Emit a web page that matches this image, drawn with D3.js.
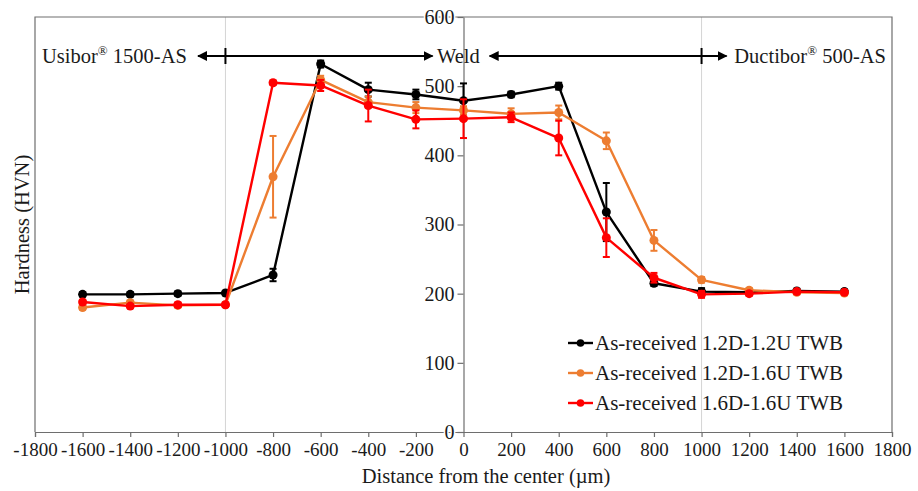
<!DOCTYPE html>
<html>
<head>
<meta charset="utf-8">
<script src="https://cdn.jsdelivr.net/npm/d3@7"></script>
<style>
  html, body { margin: 0; padding: 0; background: #fff; }
  svg text { font-family: "Liberation Serif", "Times New Roman", serif; fill: #1a1a1a; }
</style>
</head>
<body>
<svg id="chart" width="918" height="491"></svg>
<script>
// Measurement positions across the weld (µm from the weld centre)
const distances = [-1600, -1400, -1200, -1000, -800, -600, -400, -200, 0, 200, 400, 600, 800, 1000, 1200, 1400, 1600];

// Mean Vickers hardness and standard deviation for each blank configuration
const hv12D12U = [199, 199, 200, 201, 227, 532, 495, 488, 479, 488, 500, 318, 215, 203, 202, 204, 203];
const sd12D12U = [3, 3, 3, 3, 9, 5, 10, 7, 25, 4, 5, 42, 4, 5, 3, 3, 3];

const hv12D16U = [180, 187, 183, 184, 369, 509, 477, 469, 465, 460, 462, 421, 277, 220, 205, 202, 201];
const sd12D16U = [3, 3, 3, 3, 59, 6, 8, 8, 6, 8, 10, 12, 15, 4, 3, 3, 3];

const hv16D16U = [188, 182, 184, 184, 505, 501, 472, 452, 453, 455, 425, 281, 223, 199, 200, 203, 202];
const sd16D16U = [3, 3, 3, 3, 3, 8, 23, 13, 28, 7, 25, 28, 7, 5, 3, 3, 3];

const seriesNames = ["As-received 1.2D-1.2U TWB", "As-received 1.2D-1.6U TWB", "As-received 1.6D-1.6U TWB"];
const seriesColors = ["#000000", "#ED7D31", "#FF0000"];

// Axis ticks
const xTicks = d3.range(-1800, 1801, 200);
const yTicks = [0, 100, 200, 300, 400, 500, 600];

// Material zones along the top of the plot
const zoneBoundaries = [-1000, 1000];
const zoneArrows = [[-1115, -130], [110, 1105]];

const series = [
  { name: seriesNames[0], color: seriesColors[0], values: hv12D12U, sd: sd12D12U },
  { name: seriesNames[1], color: seriesColors[1], values: hv12D16U, sd: sd12D16U },
  { name: seriesNames[2], color: seriesColors[2], values: hv16D16U, sd: sd16D16U }
];

const svg = d3.select("#chart");
const plot = { left: 35, right: 892, top: 17, bottom: 432 };

const x = d3.scaleLinear().domain([-1800, 1800]).range([plot.left, plot.right]);
const y = d3.scaleLinear().domain([0, 600]).range([plot.bottom, plot.top]);

const axisColor = "#6e6e6e";
const plain = d => String(d);   // ASCII hyphen, no thousands separator

// Light vertical guides at the zone boundaries
svg.append("g").selectAll("line").data(zoneBoundaries).join("line")
  .attr("x1", d => x(d)).attr("x2", d => x(d))
  .attr("y1", plot.top).attr("y2", plot.bottom)
  .attr("stroke", "#d4d4d4").attr("stroke-width", 1);

// Plot frame (left, top, right)
svg.append("path")
  .attr("d", `M${plot.left},${plot.bottom}V${plot.top}H${plot.right}V${plot.bottom}`)
  .attr("fill", "none").attr("stroke", axisColor).attr("stroke-width", 1.2);

// X axis along the bottom
const xAxis = svg.append("g")
  .attr("transform", `translate(0,${plot.bottom})`)
  .call(d3.axisBottom(x).tickValues(xTicks).tickFormat(plain).tickSize(5).tickPadding(6).tickSizeOuter(5));
xAxis.select(".domain").attr("stroke", axisColor).attr("stroke-width", 1.2);
xAxis.selectAll(".tick line").attr("stroke", axisColor).attr("stroke-width", 1.2);
xAxis.selectAll(".tick text").attr("font-size", 19).attr("font-family", "Liberation Serif").attr("fill", "#1a1a1a");

// Y axis crossing at x = 0
const yAxis = svg.append("g")
  .attr("transform", `translate(${x(0)},0)`)
  .call(d3.axisLeft(y).tickValues(yTicks).tickFormat(plain).tickSize(6).tickPadding(3).tickSizeOuter(0));
yAxis.select(".domain").attr("stroke", axisColor).attr("stroke-width", 1.2);
yAxis.selectAll(".tick line").attr("stroke", axisColor).attr("stroke-width", 1.2);
yAxis.selectAll(".tick text")
  .attr("font-size", 20).attr("font-family", "Liberation Serif").attr("fill", "#1a1a1a")
  .attr("stroke", "#fff").attr("stroke-width", 3).attr("paint-order", "stroke");

// Axis titles
svg.append("text")
  .attr("x", 486).attr("y", 483)
  .attr("text-anchor", "middle").attr("font-size", 20.5)
  .text("Distance from the center (µm)");

svg.append("text")
  .attr("transform", `translate(29,${(plot.top + plot.bottom) / 2}) rotate(-90)`)
  .attr("text-anchor", "middle").attr("font-size", 20.5)
  .text("Hardness (HVN)");

// Zone annotation: arrows with boundary markers
const defs = svg.append("defs");
defs.append("marker")
  .attr("id", "arrowhead").attr("viewBox", "0 0 10 10")
  .attr("refX", 9).attr("refY", 5)
  .attr("markerWidth", 5).attr("markerHeight", 5)
  .attr("orient", "auto-start-reverse")
  .append("path").attr("d", "M0,0L10,5L0,10z").attr("fill", "#000");

const zoneY = 56;
svg.append("g").selectAll("line").data(zoneArrows).join("line")
  .attr("x1", d => x(d[0])).attr("x2", d => x(d[1]))
  .attr("y1", zoneY).attr("y2", zoneY)
  .attr("stroke", "#000").attr("stroke-width", 2)
  .attr("marker-start", "url(#arrowhead)").attr("marker-end", "url(#arrowhead)");

svg.append("g").selectAll("line").data(zoneBoundaries).join("line")
  .attr("x1", d => x(d)).attr("x2", d => x(d))
  .attr("y1", zoneY - 8).attr("y2", zoneY + 8)
  .attr("stroke", "#000").attr("stroke-width", 2);

function zoneLabel(px, anchor, main, sup, rest) {
  const t = svg.append("text")
    .attr("x", px).attr("y", zoneY + 7)
    .attr("text-anchor", anchor).attr("font-size", 20.5);
  t.append("tspan").text(main);
  if (sup) {
    t.append("tspan").attr("font-size", 13).attr("dy", -8).text(sup);
    t.append("tspan").attr("dy", 8).text(rest);
  }
  return t;
}
zoneLabel(42, "start", "Usibor", "®", " 1500-AS");
zoneLabel(437, "start", "Weld");
zoneLabel(886, "end", "Ductibor", "®", " 500-AS");

// Series: error bars, lines and markers
const line = d3.line().x(d => x(d.d)).y(d => y(d.v));
const capHalf = 3.5;

series.forEach(s => {
  const pts = distances.map((d, i) => ({ d, v: s.values[i], e: s.sd[i] }));
  const g = svg.append("g");

  const eb = g.append("g").attr("stroke", s.color).attr("stroke-width", 2);
  eb.selectAll("line.bar").data(pts).join("line").attr("class", "bar")
    .attr("x1", p => x(p.d)).attr("x2", p => x(p.d))
    .attr("y1", p => y(p.v + p.e)).attr("y2", p => y(p.v - p.e));
  eb.selectAll("line.capt").data(pts).join("line").attr("class", "capt")
    .attr("x1", p => x(p.d) - capHalf).attr("x2", p => x(p.d) + capHalf)
    .attr("y1", p => y(p.v + p.e)).attr("y2", p => y(p.v + p.e));
  eb.selectAll("line.capb").data(pts).join("line").attr("class", "capb")
    .attr("x1", p => x(p.d) - capHalf).attr("x2", p => x(p.d) + capHalf)
    .attr("y1", p => y(p.v - p.e)).attr("y2", p => y(p.v - p.e));

  g.append("path").datum(pts)
    .attr("d", line).attr("fill", "none")
    .attr("stroke", s.color).attr("stroke-width", 2.4).attr("stroke-linejoin", "round");

  g.selectAll("circle").data(pts).join("circle")
    .attr("cx", p => x(p.d)).attr("cy", p => y(p.v)).attr("r", 4.5)
    .attr("fill", s.color);
});

// Legend
const legend = svg.append("g");
series.forEach((s, i) => {
  const ly = 343 + i * 30;
  legend.append("line")
    .attr("x1", 568).attr("x2", 593).attr("y1", ly).attr("y2", ly)
    .attr("stroke", s.color).attr("stroke-width", 2.4);
  legend.append("circle").attr("cx", 580.5).attr("cy", ly).attr("r", 3.8).attr("fill", s.color);
  legend.append("text")
    .attr("x", 595).attr("y", ly + 7)
    .attr("font-size", 21)
    .text(s.name);
});
</script>
</body>
</html>
